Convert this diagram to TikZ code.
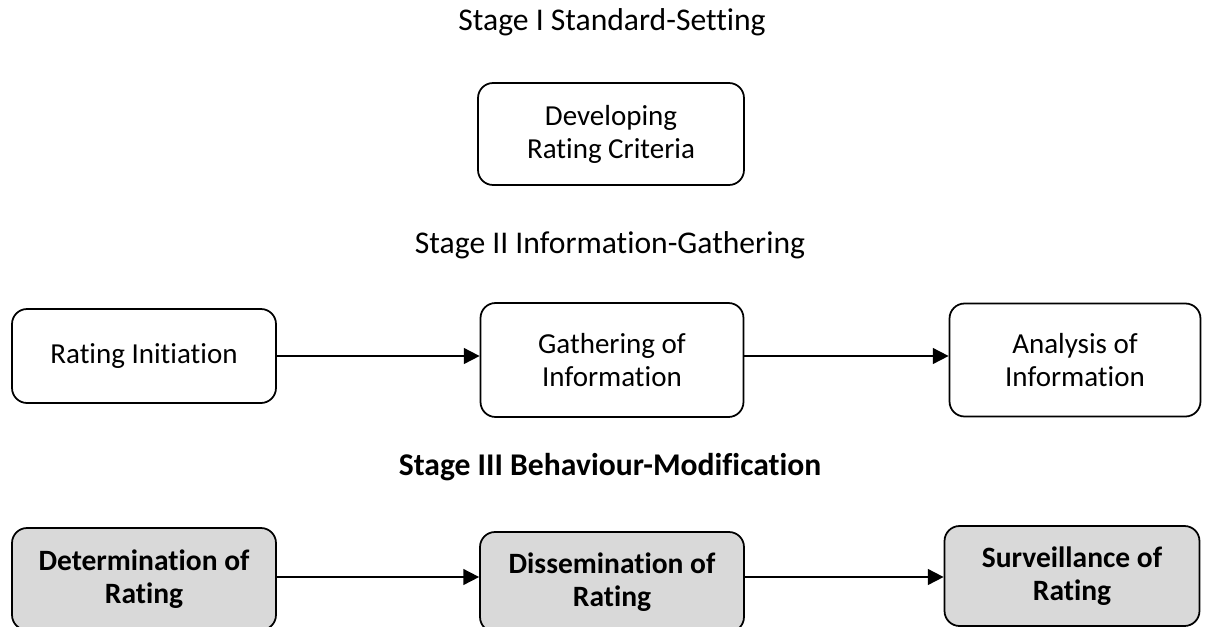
\documentclass[tikz,border=0pt]{standalone}
\usepackage{fontspec}
\setmainfont{Carlito}[Ligatures=NoCommon]
\usepackage{xcolor}
\usetikzlibrary{shapes,arrows.meta,positioning,calc}

\definecolor{boxgray}{RGB}{217,217,217}

\begin{document}
\begin{tikzpicture}[x=0.02cm, y=-0.02cm, every node/.style={font=\fontsize{16.5}{18.7}\selectfont},
    stagebox/.style={draw, rounded corners=0.3cm, line width=1pt, align=center, inner sep=2pt},
    graybox/.style={stagebox, fill=boxgray, font=\fontsize{16.8}{18.7}\selectfont\bfseries},
    title/.style={font=\fontsize{18}{21}\selectfont},
    flow/.style={line width=1pt, -{Triangle[length=9pt,width=9pt]}}]
    \useasboundingbox (0,0) rectangle (1208,626);
    \clip (0,0) rectangle (1208,626);

    % Stage I
    \node[title] (t1) at (612,22) {Stage I Standard-Setting};
    \node[stagebox, minimum width=5.32cm, minimum height=2.04cm] (drc) at (611,134) {Developing\\Rating Criteria};

    % Stage II
    \node[title] (t2) at (610,245) {Stage II Information-Gathering};
    \node[stagebox, minimum width=5.28cm, minimum height=1.88cm] (ri) at (144,356) {Rating Initiation};
    \node[stagebox, minimum width=5.26cm, minimum height=2.28cm] (goi) at (612,360) {Gathering of\\Information};
    \node[stagebox, minimum width=5.02cm, minimum height=2.26cm] (aoi) at (1075,360) {Analysis of\\Information};
    \draw[flow] (ri.east) -- (ri.east -| goi.west);
    \draw[flow] (goi.east |- ri.east) -- (ri.east -| aoi.west);

    % Stage III
    \node[title, font=\fontsize{18}{21}\selectfont\bfseries] (t3) at (610,467) {Stage III Behaviour-Modification};
    \node[graybox, minimum width=5.28cm, minimum height=2.04cm] (det) at (144,579) {Determination of\\Rating};
    \node[graybox, minimum width=5.28cm, minimum height=2.0cm] (dis) at (612,582) {Dissemination of\\Rating};
    \node[graybox, minimum width=5.1cm, minimum height=2.0cm] (sur) at (1072,576) {Surveillance of\\Rating};
    \coordinate (ar) at (0,577);
    \draw[flow] (det.east |- ar) -- (dis.west |- ar);
    \draw[flow] (dis.east |- ar) -- (sur.west |- ar);
\end{tikzpicture}
\end{document}
